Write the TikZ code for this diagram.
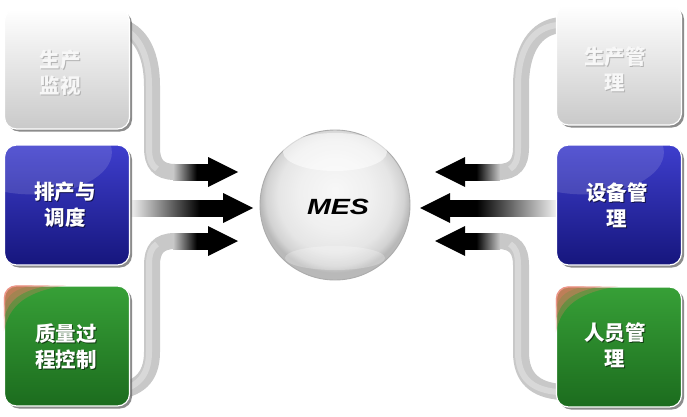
\documentclass[tikz,border=0pt]{standalone}
\usepackage{fontspec}
\newfontfamily\cjk{Noto Sans CJK SC}
\newfontfamily\arialf{Liberation Sans}
\usetikzlibrary{shadows}
\definecolor{blueT}{RGB}{62,62,205}
\definecolor{blueB}{RGB}{22,22,125}
\definecolor{greenT}{RGB}{55,160,55}
\definecolor{greenB}{RGB}{28,108,30}
\definecolor{hlred}{RGB}{232,118,100}
\definecolor{pipec}{RGB}{200,200,200}
\pgfdeclareradialshading{sph}{\pgfpoint{0bp}{5bp}}{color(0bp)=(white!97!black); color(12bp)=(gray!12); color(19bp)=(gray!20); color(23bp)=(gray!35); color(25bp)=(gray!55); color(50bp)=(gray!55)}
\pgfdeclarehorizontalshading{shaftR}{100bp}{color(0bp)=(pipec); color(25bp)=(pipec); color(58bp)=(black); color(100bp)=(black)}
\pgfdeclarehorizontalshading{shaftL}{100bp}{color(0bp)=(black); color(42bp)=(black); color(75bp)=(pipec); color(100bp)=(pipec)}
\pgfdeclarehorizontalshading{midR}{100bp}{color(0bp)=(gray!12); color(25bp)=(gray!12); color(62bp)=(black); color(100bp)=(black)}
\pgfdeclarehorizontalshading{midL}{100bp}{color(0bp)=(black); color(38bp)=(black); color(75bp)=(gray!12); color(100bp)=(gray!12)}
\tikzset{
 box/.style={rounded corners=12pt, minimum width=125pt, minimum height=120pt, inner sep=0pt,
   draw=white, line width=1.2pt,
   drop shadow={shadow xshift=2.5pt, shadow yshift=-2.5pt, fill=black!60, opacity=.75}},
 graybox/.style={box, top color=white, bottom color=gray!42},
 bluebox/.style={box, top color=blueT, bottom color=blueB},
 greenbox/.style={box, top color=greenT, bottom color=greenB},
 pipe/.style={line width=16pt, pipec},
 pipehl/.style={line width=6pt, white, opacity=.3, xshift=-3pt},
 headshape/.style={fill=black},
 lbl/.style={font=\cjk\bfseries\fontsize{20.5}{26}\selectfont, align=center, text=white, inner sep=0pt},
 lblsh/.style={lbl, text=black, opacity=.55},
 glbl/.style={lbl, text=gray!6},
 glblsh/.style={lbl, text=gray!60},
}
\newcommand\bluegloss[1]{%
  \begin{scope}
  \clip[rounded corners=12pt] (#1.north west) rectangle (#1.south east);
  \fill[white,opacity=.13] ([shift={(28,8)}]#1.north west) ellipse (80 and 42);
  \end{scope}}
\newcommand\greengloss[1]{%
  \begin{scope}
  \clip[rounded corners=12pt] (#1.north west) rectangle (#1.south east);
  \begin{scope}[shift={(#1.north west)}]
  \fill[hlred,opacity=.3] (0,46) .. controls (5,20) and (22,6) .. (62,0) -- (0,0) -- cycle;
  \fill[hlred,opacity=.45] (0,34) .. controls (4,15) and (16,5) .. (46,0) -- (0,0) -- cycle;
  \fill[hlred,opacity=.4] (0,22) .. controls (3,10) and (10,3) .. (30,0) -- (0,0) -- cycle;
  \end{scope}
  \end{scope}}
\begin{document}
\begin{tikzpicture}[x=1pt,y=-1pt]
\useasboundingbox (0,0) rectangle (687,417);
\fill[white] (0,0) rectangle (687,417);

% ---- left pipes
\draw[pipe] (112,25) .. controls (138,27) and (152,50) .. (152,86) -- (152,148) .. controls (152,163) and (158,172) .. (175,172);
\draw[pipehl] (112,25) .. controls (138,27) and (152,50) .. (152,86) -- (152,148) .. controls (152,160) and (155,166) .. (160,169);
\draw[pipe] (175,241) .. controls (158,241) and (152,250) .. (152,265) -- (152,352) .. controls (152,378) and (138,390) .. (112,392);
\draw[pipehl] (160,244) .. controls (155,247) and (152,253) .. (152,265) -- (152,352) .. controls (152,378) and (138,390) .. (112,392);
\shade[shading=shaftR] (173,164) rectangle (209,180);
\shade[shading=shaftR] (173,233) rectangle (209,249);
\shade[shading=midR] (131,200) rectangle (224,216);
\coordinate (lt) at (238,172);
\coordinate (lm) at (253,208);
\coordinate (lb) at (238,241);
\fill[headshape] (lt) -- ++(-30,-15) -- ++(0,30) -- cycle;
\fill[headshape] (lm) -- ++(-30,-15) -- ++(0,30) -- cycle;
\fill[headshape] (lb) -- ++(-30,-15) -- ++(0,30) -- cycle;

% ---- right pipes
\draw[pipe] (561,25) .. controls (535,27) and (521,50) .. (521,86) -- (521,148) .. controls (521,163) and (515,172) .. (498,172);
\draw[pipehl] (561,25) .. controls (535,27) and (521,50) .. (521,86) -- (521,148) .. controls (521,160) and (518,166) .. (513,169);
\draw[pipe] (498,241) .. controls (515,241) and (521,250) .. (521,265) -- (521,352) .. controls (521,378) and (535,390) .. (561,392);
\draw[pipehl] (513,244) .. controls (518,247) and (521,253) .. (521,265) -- (521,352) .. controls (521,378) and (535,390) .. (561,392);
\shade[shading=shaftL] (464,164) rectangle (500,180);
\shade[shading=shaftL] (464,233) rectangle (500,249);
\shade[shading=midL] (449,200) rectangle (556,216);
\coordinate (rt) at (435,172);
\coordinate (rm) at (420,208);
\coordinate (rb) at (435,241);
\fill[headshape] (rt) -- ++(30,-15) -- ++(0,30) -- cycle;
\fill[headshape] (rm) -- ++(30,-15) -- ++(0,30) -- cycle;
\fill[headshape] (rb) -- ++(30,-15) -- ++(0,30) -- cycle;

% ---- boxes
\node[graybox] (L1) at (67,69) {};
\node[bluebox] (L2) at (67,205) {};
\node[greenbox] (L3) at (67,346) {};
\node[graybox] (R1) at (619,65) {};
\node[bluebox] (R2) at (619,205) {};
\node[greenbox] (R3) at (619,347) {};
\bluegloss{L2}
\bluegloss{R2}
\greengloss{L3}
\greengloss{R3}

% ---- labels
\node[glblsh] (L1s) at (61,74) {生产\\监视};
\node[glbl] (L1t) at (60,73) {生产\\监视};
\node[lblsh] (L2s) at (66,206) {排产与\\调度};
\node[lbl] (L2t) at (65,205) {排产与\\调度};
\node[lblsh] (L3s) at (67,348) {质量过\\程控制};
\node[lbl] (L3t) at (66,347) {质量过\\程控制};
\node[glblsh] (R1s) at (616,70) {生产管\\理};
\node[glbl] (R1t) at (615,69) {生产管\\理};
\node[lblsh] (R2s) at (618,206) {设备管\\理};
\node[lbl] (R2t) at (617,205) {设备管\\理};
\node[lblsh] (R3s) at (616,346) {人员管\\理};
\node[lbl] (R3t) at (615,345) {人员管\\理};

% ---- sphere
\node[circle, minimum size=150pt, inner sep=0pt, shading=sph, draw=gray!65, line width=.9pt] (mes) at (335,205) {};
\fill[white,opacity=.55] (335,152) ellipse (52 and 19);
\fill[white,opacity=.25] (335,258) ellipse (50 and 12);
\node[font=\arialf\bfseries\itshape\fontsize{22}{22}\selectfont, inner sep=0pt] (mest) at (338,207) {\scalebox{1.3}[1]{MES}};
\end{tikzpicture}
\end{document}
